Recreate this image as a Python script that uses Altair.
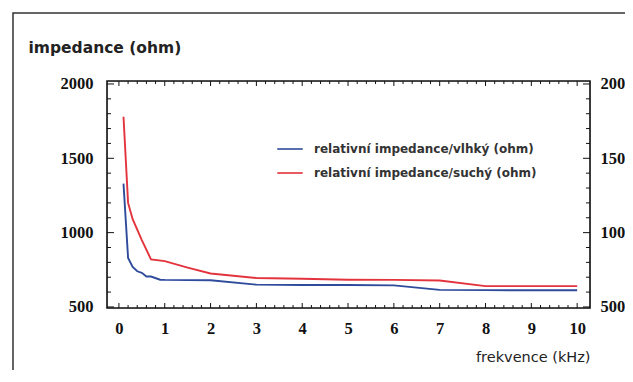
import altair as alt
import pandas as pd

# ---- data ----
freq_wet = [0.1, 0.2, 0.3, 0.4, 0.5, 0.6, 0.7, 0.9, 1, 2, 3, 4, 5, 6, 7, 8, 9, 10]
imp_wet = [1330, 830, 770, 740, 730, 705, 705, 683, 682, 680, 650, 648, 648, 645, 615, 613, 612, 612]
freq_dry = [0.1, 0.2, 0.3, 0.5, 0.7, 1, 1.5, 2, 3, 4, 5, 6, 7, 8, 9, 10]
imp_dry = [1780, 1200, 1090, 950, 820, 808, 765, 725, 695, 690, 683, 682, 678, 640, 640, 640]
series_names = ["relativní impedance/vlhký (ohm)", "relativní impedance/suchý (ohm)"]
series_colors = ["#2f4c9c", "#e3333d"]
x_labels = [0, 1, 2, 3, 4, 5, 6, 7, 8, 9, 10]
y_labels = [500, 1000, 1500, 2000]
x_minor = [round(i * 0.2, 1) for i in range(51)]
y_minor = list(range(500, 2001, 100))

W, H = 483, 227

rows = []
for f, v in zip(freq_wet, imp_wet):
    rows.append({"f": f, "v": v, "s": series_names[0]})
for f, v in zip(freq_dry, imp_dry):
    rows.append({"f": f, "v": v, "s": series_names[1]})
df = pd.DataFrame(rows)

xt = pd.DataFrame({"t": x_minor, "major": [abs(t - round(t)) < 1e-9 for t in x_minor]})
yt = pd.DataFrame({"t": y_minor, "major": [t % 500 == 0 for t in y_minor]})

xscale = alt.Scale(domain=[-0.26, 10.28], nice=False, zero=False)
yscale = alt.Scale(domain=[493, 2020], nice=False, zero=False)

tickfont = "Liberation Serif"
sans = "DejaVu Sans"

x_axis = alt.Axis(
    values=x_labels, ticks=False, domain=False, grid=False, format="d",
    labelFont=tickfont, labelFontSize=16.5, labelFontWeight="bold", labelColor="#111",
    labelPadding=12,
    title="frekvence (kHz)", titleFont=sans, titleFontSize=14.5, titleFontWeight="normal",
    titleColor="#222", titleAnchor="end", titleAlign="right", titleX=W, titleY=49,
    titleBaseline="middle")

left_axis = alt.Axis(
    orient="left", values=y_labels, ticks=False, domain=False, grid=False, format="d",
    labelFont=tickfont, labelFontSize=16.5, labelFontWeight="bold", labelColor="#111",
    labelPadding=14,
    title="impedance (ohm)", titleAngle=0, titleAlign="left", titleBaseline="middle",
    titleX=-79, titleY=-34, titleFont=sans, titleFontSize=15.5, titleFontWeight="bold",
    titleColor="#222")

right_axis = alt.Axis(
    orient="right", values=y_labels, ticks=False, domain=False, grid=False, format="d",
    labelFont=tickfont, labelFontSize=16.5, labelFontWeight="bold", labelColor="#111",
    labelPadding=10, title=None)

lines = alt.Chart(df).mark_line(strokeWidth=1.9).encode(
    x=alt.X("f:Q", scale=xscale, axis=x_axis),
    y=alt.Y("v:Q", scale=yscale, axis=left_axis),
    color=alt.Color("s:N", scale=alt.Scale(domain=series_names, range=series_colors),
                    legend=alt.Legend(
                        title=None, orient="none", legendX=169, legendY=54,
                        symbolType="stroke", symbolStrokeWidth=1.6, symbolSize=650,
                        labelFont=sans, labelFontSize=12, labelFontWeight="bold",
                        labelColor="#333", labelOffset=10, labelLimit=0,
                        padding=0, rowPadding=4)),
)

# inward ticks
def xticks(y0, y1, major):
    return alt.Chart(xt).transform_filter(
        alt.datum.major if major else ~alt.datum.major
    ).mark_rule(color="#111", strokeWidth=1).encode(
        x=alt.X("t:Q", scale=xscale, axis=x_axis),
        y=alt.value(y0), y2=alt.value(y1))

def yticks(x0, x1, major, axis=None):
    return alt.Chart(yt).transform_filter(
        alt.datum.major if major else ~alt.datum.major
    ).mark_rule(color="#111", strokeWidth=1).encode(
        y=alt.Y("t:Q", scale=yscale, axis=axis),
        x=alt.value(x0), x2=alt.value(x1))

one = alt.Data(values=[{"a": 1}])
frame = alt.Chart(one).mark_rect(
    fill=None, stroke="#333", strokeWidth=1.5).encode(
    x=alt.value(-94), x2=alt.value(700), y=alt.value(-68), y2=alt.value(500))
plotbox = alt.Chart(one).mark_rect(
    fill=None, stroke="#111", strokeWidth=1.6).encode(
    x=alt.value(0), x2=alt.value(W), y=alt.value(0), y2=alt.value(H))

chart = alt.layer(
    frame,
    lines,
    yticks(W, W - 7, True, right_axis),
    xticks(H, H - 3, False), xticks(H, H - 5, True),
    xticks(0, 3, False), xticks(0, 5, True),
    yticks(0, 4, False), yticks(0, 7, True),
    yticks(W, W - 4, False),
    plotbox,
).resolve_axis(y="independent").properties(
    width=W, height=H,
    padding={"left": 99, "top": 73, "right": 35, "bottom": 62},
    autosize=alt.AutoSizeParams(type="none"),
).configure_view(stroke=None).configure(background="white")

chart.save("out.html", embed_options={"renderer": "svg", "actions": False})
